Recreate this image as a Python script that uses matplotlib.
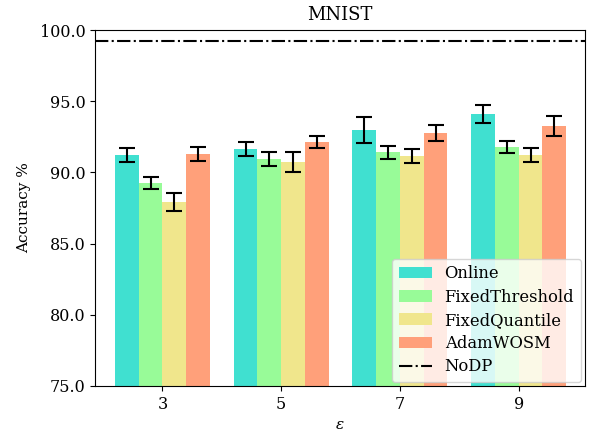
import numpy as np
import matplotlib
matplotlib.use('Agg')
import matplotlib.pyplot as plt
from matplotlib.ticker import FormatStrFormatter

plt.rcParams['font.family'] = 'DejaVu Serif'
plt.rcParams['mathtext.fontset'] = 'dejavuserif'
plt.rcParams['font.size'] = 11

eps = ['3', '5', '7', '9']
methods = ['Online', 'FixedThreshold', 'FixedQuantile', 'AdamWOSM']
colours = ['turquoise', 'palegreen', 'khaki', 'lightsalmon']

acc_online = [91.22, 91.64, 92.98, 94.10]
acc_fixthr = [89.26, 90.94, 91.43, 91.78]
acc_fixq = [87.92, 90.73, 91.15, 91.22]
acc_adam = [91.29, 92.13, 92.77, 93.26]

err_online = [0.51, 0.51, 0.91, 0.64]
err_fixthr = [0.40, 0.50, 0.46, 0.43]
err_fixq = [0.64, 0.72, 0.50, 0.48]
err_adam = [0.48, 0.40, 0.53, 0.70]

nodp = 99.23

accs = [acc_online, acc_fixthr, acc_fixq, acc_adam]
errs = [err_online, err_fixthr, err_fixq, err_adam]

fig, ax = plt.subplots(figsize=(5.92, 4.36), dpi=100)
x = np.arange(len(eps))
w = 0.2
handles = []
for i, (m, c) in enumerate(zip(methods, colours)):
    h = ax.bar(x + (i - 1.5) * w, accs[i], w, yerr=errs[i], color=c, label=m,
               capsize=6, error_kw=dict(elinewidth=1.5, capthick=1.5, ecolor='black'))
    handles.append(h)
line = ax.axhline(nodp, color='black', linestyle='-.', linewidth=1.5, label='NoDP')
handles.append(line)

ax.set_ylim(75, 100)
ax.set_xlim(-0.568, 3.558)
ax.yaxis.set_major_formatter(FormatStrFormatter('%.1f'))
ax.set_xticks(x)
ax.set_xticklabels(eps)
ax.tick_params(labelsize=11.5)
ax.set_xlabel(r'$\epsilon$')
ax.set_ylabel('Accuracy %', labelpad=6)
ax.set_title('MNIST', fontsize=13, pad=7)
ax.legend(handles=handles, labels=methods + ['NoDP'], loc='lower right',
          fontsize=11.8, borderaxespad=0.25, labelspacing=0.38)

plt.subplots_adjust(left=0.1605, right=0.988, top=0.931, bottom=0.1147)
fig.savefig('out.png', dpi=100)
